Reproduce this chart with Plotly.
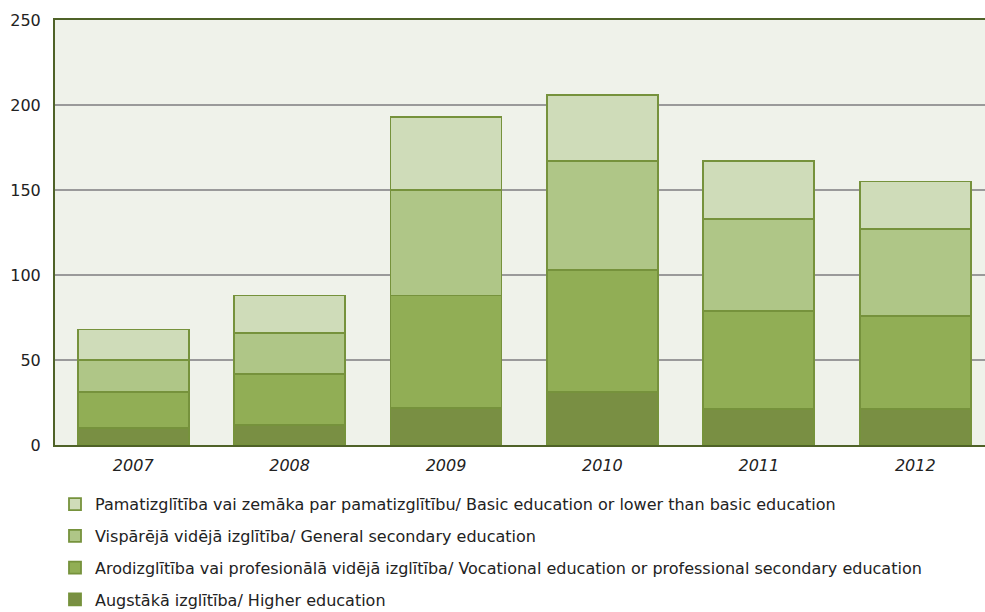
import plotly.graph_objects as go

years = ["2007", "2008", "2009", "2010", "2011", "2012"]
higher = [10, 12, 22, 31, 21, 21]
vocational = [21, 30, 66, 72, 58, 55]
general = [19, 24, 62, 64, 54, 51]
basic = [18, 22, 43, 39, 34, 28]

names = [
    "Augstākā izglītība/ Higher education",
    "Arodizglītība vai profesionālā vidējā izglītība/ Vocational education or professional secondary education",
    "Vispārējā vidējā izglītība/ General secondary education",
    "Pamatizglītība vai zemāka par pamatizglītību/ Basic education or lower than basic education",
]
colors = ["#798F43", "#91AE55", "#AFC687", "#CFDCB9"]
series = [higher, vocational, general, basic]

fig = go.Figure()
for i, (nm, vals, col) in enumerate(zip(names, series, colors)):
    fig.add_trace(go.Bar(
        x=years, y=vals, name=nm, legendgroup=str(i), legendrank=4 - i,
        marker=dict(color=col, line=dict(color="#76923C", width=1.8)),
        width=0.71,
    ))

font = "Verdana, DejaVu Sans, sans-serif"
fig.update_layout(
    width=985, height=612,
    barmode="stack",
    paper_bgcolor="white",
    plot_bgcolor="#EFF2EA",
    margin=dict(l=55, r=0, t=20, b=167),
    font=dict(family=font, size=16, color="#222222"),
    showlegend=True,
    legend=dict(
        orientation="v", x=0.0, xanchor="left",
        yref="container", y=0.204, yanchor="top",
        traceorder="grouped", tracegroupgap=8,
        font=dict(family=font, size=16, color="#222222"),
        itemwidth=30,
    ),
    xaxis=dict(
        range=[-0.5, 5.446],
        showline=True, linecolor="#4F6228", linewidth=2, mirror=True,
        showgrid=False,
        tickfont=dict(family=font, size=16, style="italic", color="#222222"),
        ticks="", ticklabelstandoff=5,
    ),
    yaxis=dict(
        range=[0, 250], tickvals=[0, 50, 100, 150, 200, 250],
        showline=True, linecolor="#4F6228", linewidth=2,
        showgrid=True, gridcolor="#9A9A9A", gridwidth=1.6,
        zeroline=False,
        tickfont=dict(family=font, size=16, color="#222222"),
        ticks="", ticklabelstandoff=9,
    ),
)

fig.write_html(
    "out.html",
    config={"displayModeBar": False},
    post_script="document.body.style.margin='0';document.body.style.overflow='hidden';",
)
